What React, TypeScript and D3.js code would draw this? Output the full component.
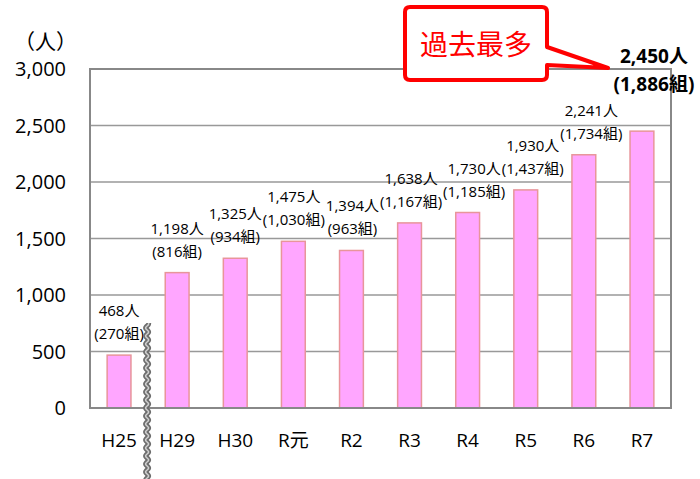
import React from "react";
import * as d3 from "d3";

// 年度ごとの来場者数（人）と組数
const categories = ["H25", "H29", "H30", "R元", "R2", "R3", "R4", "R5", "R6", "R7"];
const people = [468, 1198, 1325, 1475, 1394, 1638, 1730, 1930, 2241, 2450];
const groups = [270, 816, 934, 1030, 963, 1167, 1185, 1437, 1734, 1886];
const yTicks = [0, 500, 1000, 1500, 2000, 2500, 3000];

const W = 700;
const H = 479;
const plot = { left: 90, right: 671, top: 69, bottom: 408 };
const font = "'Open Sans', 'Noto Sans CJK JP', sans-serif";
const labelSize = 15;

const fmt = d3.format(",");

let ctx: CanvasRenderingContext2D | null = null;
function textWidth(s: string) {
  if (!ctx) ctx = document.createElement("canvas").getContext("2d");
  if (!ctx) return s.length * labelSize * 0.6;
  ctx.font = `${labelSize}px ${font}`;
  return ctx.measureText(s).width;
}

export default function App() {
  const x = d3
    .scaleBand<string>()
    .domain(categories)
    .range([plot.left, plot.right])
    .paddingInner(0.59)
    .paddingOuter(0.295);
  const y = d3.scaleLinear().domain([0, 3000]).range([plot.bottom, plot.top]);

  const last = categories.length - 1;

  // value labels, nudged right when they would collide with the previous one
  const labels: { cx: number; lines: { t: string; y: number; w: number }[] }[] = [];
  categories.forEach((c, i) => {
    if (i === last) return;
    const top = y(people[i]);
    const lines = [
      { t: `${fmt(people[i])}人`, y: top - 39 },
      { t: `(${fmt(groups[i])}組)`, y: top - 16 },
    ].map((l) => ({ ...l, w: textWidth(l.t) }));
    let cx = x(c)! + x.bandwidth() / 2;
    const prev = labels[labels.length - 1];
    if (prev) {
      let shift = 0;
      for (const a of prev.lines)
        for (const b of lines) {
          if (Math.abs(a.y - b.y) < 19) {
            const overlap = prev.cx + a.w / 2 - (cx - b.w / 2) + 1;
            if (overlap > shift) shift = overlap;
          }
        }
      cx += shift;
    }
    labels.push({ cx, lines });
  });

  // wavy break mark between H25 and H29
  const breakX = (x(categories[0])! + x.bandwidth() + x(categories[1])!) / 2 - 1;
  const wave = d3.range(323, H + 4, 2).map((yy, i) => [breakX + (i % 4 < 2 ? 1.6 : -1.6), yy] as [number, number]);
  const wavePath = d3.line().curve(d3.curveBasis)(wave) || "";

  // callout box with tail
  const bx0 = 405, bx1 = 547, by0 = 7, by1 = 80, r = 5;
  const callout = [
    `M${bx0 + r},${by0}`,
    `H${bx1 - r}`,
    `Q${bx1},${by0} ${bx1},${by0 + r}`,
    `V47`,
    `L608,68`,
    `L${bx1},65`,
    `V${by1 - r}`,
    `Q${bx1},${by1} ${bx1 - r},${by1}`,
    `H${bx0 + r}`,
    `Q${bx0},${by1} ${bx0},${by1 - r}`,
    `V${by0 + r}`,
    `Q${bx0},${by0} ${bx0 + r},${by0}`,
    "Z",
  ].join(" ");

  const lastCx = x(categories[last])! + x.bandwidth() / 2 + 12;
  const lastTop = y(people[last]);

  return (
    <svg width={W} height={H} style={{ position: "absolute", left: 0, top: 0, background: "#fff" }} fontFamily={font}>
      {/* gridlines */}
      {yTicks.map((t) => (
        <line key={t} x1={plot.left} x2={plot.right} y1={y(t)} y2={y(t)} stroke="#999" strokeWidth={1.5} />
      ))}
      {/* bars */}
      {categories.map((c, i) => (
        <rect
          key={c}
          x={x(c)}
          y={y(people[i])}
          width={x.bandwidth()}
          height={y(0) - y(people[i])}
          fill="#FFA6FF"
          stroke="#E8959A"
          strokeWidth={1.5}
        />
      ))}
      {/* frame */}
      <rect
        x={plot.left}
        y={plot.top}
        width={plot.right - plot.left}
        height={plot.bottom - plot.top}
        fill="none"
        stroke="#888"
        strokeWidth={2}
      />
      {/* y axis labels */}
      {yTicks.map((t) => (
        <text key={t} x={66} y={y(t) + 7} textAnchor="end" fontSize={20} fill="#000">
          {fmt(t)}
        </text>
      ))}
      <text x={14} y={49} fontSize={21} fill="#000">
        （人）
      </text>
      {/* x axis labels */}
      {categories.map((c) => (
        <text key={c} x={x(c)! + x.bandwidth() / 2} y={447} textAnchor="middle" fontSize={19} fill="#000">
          {c}
        </text>
      ))}
      {/* value labels */}
      {labels.map((l, i) => (
        <g key={i} fontSize={labelSize} textAnchor="middle" fill="#000">
          {l.lines.map((ln, j) => (
            <text key={j} x={l.cx} y={ln.y}>
              {ln.t}
            </text>
          ))}
        </g>
      ))}
      <g fontWeight="bold" fontSize={19} textAnchor="middle" fill="#000">
        <text x={lastCx} y={lastTop - 68}>{fmt(people[last])}人</text>
        <text x={lastCx} y={lastTop - 40}>({fmt(groups[last])}組)</text>
      </g>
      {/* break mark */}
      <path d={wavePath} fill="none" stroke="#6e6e6e" strokeWidth={5} />
      <path d={wavePath} fill="none" stroke="#cfcfcf" strokeWidth={1.5} />
      {/* callout */}
      <path d={callout} fill="#fff" stroke="#FF0000" strokeWidth={4} strokeLinejoin="round" />
      <text x={(bx0 + bx1) / 2} y={55} textAnchor="middle" fontSize={28} fill="#FF0000">
        過去最多
      </text>
    </svg>
  );
}
